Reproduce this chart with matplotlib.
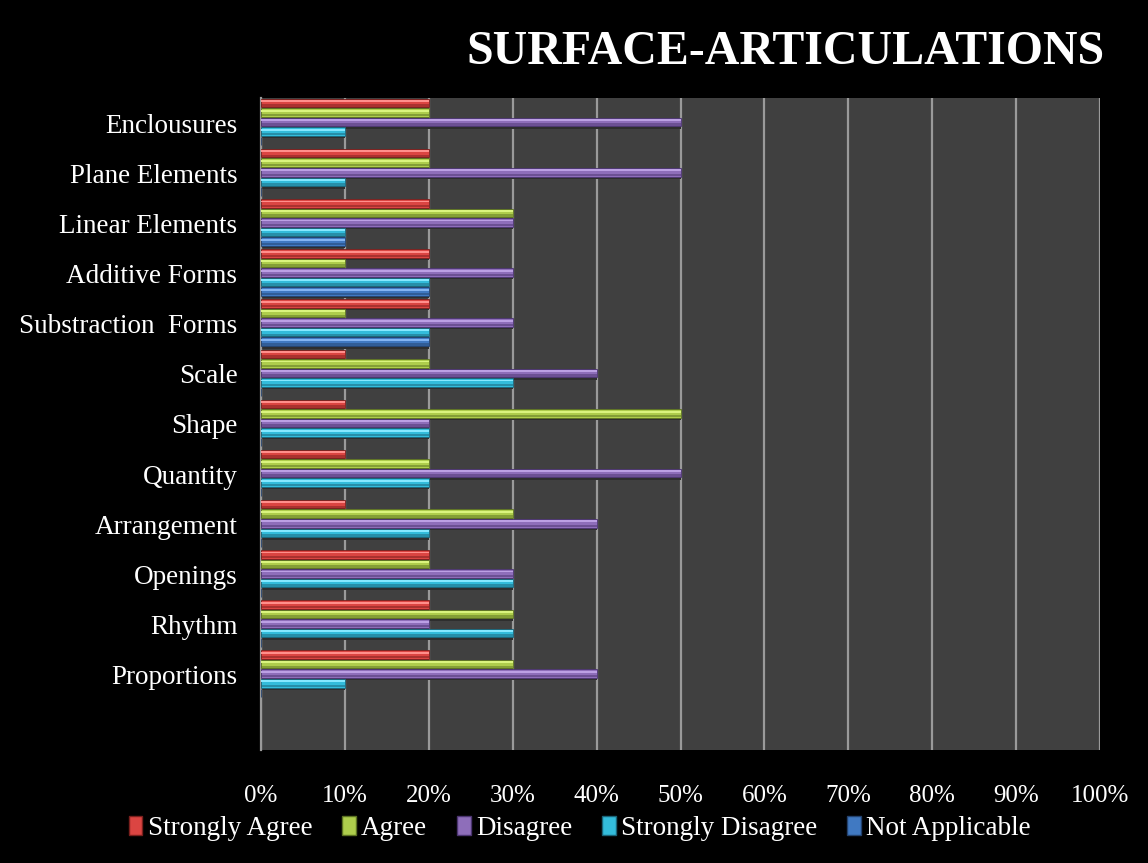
import matplotlib
matplotlib.use("Agg")
import matplotlib.pyplot as plt
import numpy as np
from matplotlib.patches import Patch

categories = ["Enclousures", "Plane Elements", "Linear Elements", "Additive Forms",
              "Substraction  Forms", "Scale", "Shape", "Quantity", "Arrangement",
              "Openings", "Rhythm", "Proportions"]
series_names = ["Strongly Agree", "Agree", "Disagree", "Strongly Disagree", "Not Applicable"]
strongly_agree    = [20, 20, 20, 20, 20, 10, 10, 10, 10, 20, 20, 20]
agree             = [20, 20, 30, 10, 10, 20, 50, 20, 30, 20, 30, 30]
disagree          = [50, 50, 30, 30, 30, 40, 20, 50, 40, 30, 20, 40]
strongly_disagree = [10, 10, 10, 20, 20, 30, 20, 20, 20, 30, 30, 10]
not_applicable    = [0, 0, 10, 20, 20, 0, 0, 0, 0, 0, 0, 0]
xticks = [0, 10, 20, 30, 40, 50, 60, 70, 80, 90, 100]

series = [strongly_agree, agree, disagree, strongly_disagree, not_applicable]
base_cols = ["#DB4542", "#AECD4C", "#8E6EBA", "#33BCDB", "#4079C2"]
light_cols = ["#FF8F8B", "#DAF47E", "#BCA0E4", "#85E8FF", "#84B4F2"]
dark_cols = ["#7A1F1D", "#5C7222", "#4B3470", "#1A6478", "#23426E"]

plt.rcParams['font.family'] = ['Liberation Serif', 'DejaVu Serif']

fig = plt.figure(figsize=(11.48, 8.63), dpi=100, facecolor="black")
ax = fig.add_axes([0.2274, 0.131, 0.7308, 0.7554])
ax.set_facecolor("#404040")

y = np.arange(len(categories))
pitch = 0.19
h = 0.17
for k, vals in enumerate(series):
    off = (k - 2) * pitch - 0.02
    yy = y + off
    # shadow
    ax.barh(yy + 0.05, vals, height=h, color="#2E2E2E", zorder=2, linewidth=0)
    ax.barh(yy, vals, height=h, color=base_cols[k], zorder=3,
            edgecolor=dark_cols[k], linewidth=0.6)
    ax.barh(yy - h * 0.22, vals, height=h * 0.22, color=light_cols[k], zorder=4, linewidth=0)
    ax.barh(yy + h * 0.3, vals, height=h * 0.28, color=dark_cols[k], alpha=0.5, zorder=4, linewidth=0)

ax.set_xlim(0, 100)
ax.set_ylim(12.5, -0.5)
ax.set_xticks(xticks)
ax.set_xticklabels([f"{t}%" for t in xticks], color="white", fontsize=18)
ax.set_yticks(y)
ax.set_yticklabels(categories, color="white", fontsize=19.5)
ax.tick_params(axis="x", length=0, pad=25)
ax.tick_params(axis="y", length=0, pad=17)
ax.xaxis.grid(True, color="#9A9A9A", linewidth=1.6, zorder=1)
ax.set_axisbelow(True)
for s in ["top", "right", "bottom"]:
    ax.spines[s].set_visible(False)
ax.spines["left"].set_color("#9A9A9A")
ax.spines["left"].set_linewidth(1.6)

fig.text(0.962, 0.94, "SURFACE-ARTICULATIONS", color="white", fontsize=34.5,
         fontweight="bold", ha="right", va="center")

handles = [Patch(facecolor=base_cols[k], edgecolor=dark_cols[k], label=series_names[k])
           for k in range(5)]
leg = fig.legend(handles=handles, loc="center", bbox_to_anchor=(0.505, 0.04), ncol=5,
                 frameon=False, fontsize=19.5, handlelength=0.5, handleheight=0.7,
                 handletextpad=0.2, columnspacing=1.1, labelcolor="white")

fig.savefig("out.png", dpi=100, facecolor="black")
